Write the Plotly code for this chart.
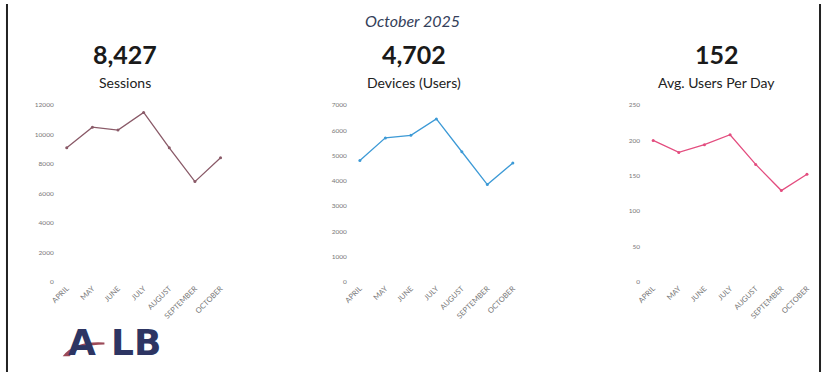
import plotly.graph_objects as go

months = ["APRIL", "MAY", "JUNE", "JULY", "AUGUST", "SEPTEMBER", "OCTOBER"]
sessions = [9100, 10500, 10300, 11500, 9100, 6800, 8427]
devices = [4800, 5700, 5800, 6450, 5150, 3850, 4702]
avg_users = [200, 183, 194, 208, 166, 129, 152]

kpi_values = ["8,427", "4,702", "152"]
kpi_labels = ["Sessions", "Devices (Users)", "Avg. Users Per Day"]
y_maxes = [12000, 7000, 250]
y_dticks = [2000, 1000, 50]
colors = ["#8a5a68", "#3d9ad6", "#e34d7f"]
series = [sessions, devices, avg_users]
logo_letters = ["A", "L", "B"]

W, H = 822, 375
x_domains_px = [(50, 229), (345, 523), (640, 819)]
kpi_centers_px = [121, 412, 716]
logo_centers_px = [77, 118, 143]
y_bottom_px, y_top_px = 283, 103

fig = go.Figure()
font_family = "Lato, 'Noto Sans', sans-serif"

for i in range(3):
    ax = "" if i == 0 else str(i + 1)
    fig.add_trace(go.Scatter(
        x=months, y=series[i], mode="lines+markers",
        line=dict(color=colors[i], width=1.3),
        marker=dict(size=3, color=colors[i]),
        xaxis="x" + ax, yaxis="y" + ax, showlegend=False,
        hoverinfo="x+y",
    ))
    x0, x1 = x_domains_px[i]
    fig.update_layout(**{
        "xaxis" + ax: dict(
            domain=[x0 / W, x1 / W], anchor="y" + ax,
            type="category", range=[-0.47, 6.47],
            showgrid=False, zeroline=False, showline=False,
            tickangle=-45, tickfont=dict(size=7.5, color="#777", family=font_family),
            ticks="", fixedrange=True,
        ),
        "yaxis" + ax: dict(
            domain=[(H - y_bottom_px) / H, (H - y_top_px) / H], anchor="x" + ax,
            range=[0, y_maxes[i]], dtick=y_dticks[i], tick0=0,
            showgrid=False, zeroline=False, showline=False,
            tickfont=dict(size=6.5, color="#777", family=font_family),
            ticks="", tickformat="d", fixedrange=True,
        ),
    })

annotations = [
    dict(text="<i>October 2025</i>", x=410 / W, y=1 - 17 / H, xref="paper", yref="paper",
         xanchor="center", yanchor="middle", showarrow=False,
         font=dict(size=16, color="#34405a", family=font_family)),
]
for i in range(3):
    cx = kpi_centers_px[i] / W
    annotations.append(dict(text="<b>" + kpi_values[i] + "</b>", x=cx, y=1 - 51 / H,
                            xref="paper", yref="paper", xanchor="center", yanchor="middle",
                            showarrow=False,
                            font=dict(size=25, color="#1a1a1a", family=font_family)))
    annotations.append(dict(text=kpi_labels[i], x=cx, y=1 - 80 / H,
                            xref="paper", yref="paper", xanchor="center", yanchor="middle",
                            showarrow=False,
                            font=dict(size=14, color="#222", family=font_family)))
for letter, cx in zip(logo_letters, logo_centers_px):
    annotations.append(dict(text="<b>" + letter + "</b>", x=cx / W, y=1 - 345 / H,
                            xref="paper", yref="paper", xanchor="center", yanchor="middle",
                            showarrow=False,
                            font=dict(size=36, color="#2d3563", family="'DejaVu Sans', sans-serif")))

shapes = [
    dict(type="line", xref="paper", yref="paper", x0=2 / W, x1=2 / W, y0=0, y1=1,
         line=dict(color="#222", width=2)),
    dict(type="line", xref="paper", yref="paper", x0=820 / W, x1=820 / W, y0=0, y1=1,
         line=dict(color="#222", width=2)),
    dict(type="path", xref="paper", yref="paper",
         path="M {:.4f},{:.4f} Q {:.4f},{:.4f} {:.4f},{:.4f} L {:.4f},{:.4f} Q {:.4f},{:.4f} {:.4f},{:.4f} Z".format(
             58 / W, 1 - 359 / H, 70 / W, 1 - 343 / H, 100 / W, 1 - 345 / H,
             100 / W, 1 - 347 / H, 75 / W, 1 - 347 / H, 65 / W, 1 - 359 / H),
         fillcolor="#9c4a58", line=dict(width=0), layer="above"),
]

fig.update_layout(
    width=W, height=H, margin=dict(l=0, r=0, t=0, b=0),
    paper_bgcolor="white", plot_bgcolor="white",
    annotations=annotations, shapes=shapes,
)

fig.write_html("out.html", config={"displayModeBar": False},
               post_script="document.body.style.margin='0';document.body.style.overflow='hidden';")
